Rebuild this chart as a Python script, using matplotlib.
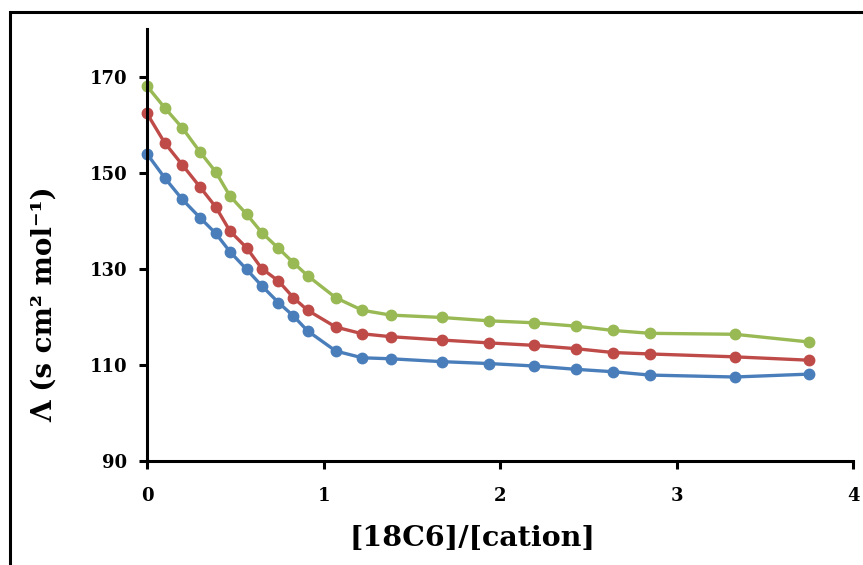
import matplotlib.pyplot as plt
from matplotlib.patches import Rectangle

# [18C6]/[cation] mole ratio
ratio = [0.0, 0.1, 0.2, 0.3, 0.39, 0.47, 0.565, 0.65, 0.745, 0.83, 0.91,
         1.07, 1.22, 1.38, 1.67, 1.94, 2.19, 2.43, 2.64, 2.85, 3.33, 3.75]

green = [168.1, 163.6, 159.4, 154.4, 150.2, 145.2, 141.4, 137.6, 134.3, 131.3, 128.6,
         124.0, 121.4, 120.4, 119.9, 119.2, 118.8, 118.1, 117.2, 116.6, 116.4, 114.8]
red = [162.4, 156.3, 151.7, 147.1, 142.9, 137.9, 134.4, 130.1, 127.5, 124.0, 121.4,
       117.9, 116.5, 115.9, 115.2, 114.6, 114.1, 113.4, 112.6, 112.3, 111.7, 111.0]
blue = [154.0, 149.0, 144.5, 140.7, 137.4, 133.6, 129.9, 126.5, 123.0, 120.2, 117.1,
        112.9, 111.5, 111.3, 110.7, 110.3, 109.8, 109.1, 108.6, 107.9, 107.5, 108.1]

yticks = [90, 110, 130, 150, 170]
xticks = [0, 1, 2, 3, 4]

plt.rcParams["font.family"] = ["DejaVu Serif"]
plt.rcParams["font.weight"] = "bold"

W, H = 863, 565
fig = plt.figure(figsize=(W / 100, H / 100), dpi=100)

# outer frame (right and bottom edges fall outside the image)
fig.patches.append(Rectangle((10 / W, -0.5), 2.0, 1.5 - 12 / H, transform=fig.transFigure,
                             fill=False, edgecolor="black", linewidth=2.2))

ax = fig.add_axes([147 / W, 1 - 461 / H, (853 - 147) / W, (461 - 29) / H])

for vals, col in [(blue, "#4a7ebb"), (red, "#be4b48"), (green, "#98b954")]:
    ax.plot(ratio, vals, color=col, linewidth=2.4, marker="o", markersize=7.5,
            clip_on=False, zorder=3)

ax.set_xlim(0, 4)
ax.set_ylim(90, 180)
ax.set_xticks(xticks)
ax.set_yticks(yticks)
for s in ["top", "right"]:
    ax.spines[s].set_visible(False)
for s in ["left", "bottom"]:
    ax.spines[s].set_linewidth(2.2)
    ax.spines[s].set_zorder(4)
ax.tick_params(direction="out", length=6, width=2.2, labelsize=13)
ax.tick_params(axis="x", pad=13)
ax.tick_params(axis="y", pad=8)

ax.set_xlabel("[18C6]/[cation]", fontsize=20.5, fontweight="bold", va="center")
ax.set_ylabel("Λ (s cm² mol⁻¹)", fontsize=20, fontweight="bold", va="center")
# label centres placed in pixel terms of the reference
ax.xaxis.set_label_coords((472 - 147) / 706, (461 - 538) / 432)
ax.yaxis.set_label_coords((44 - 147) / 706, (461 - 304) / 432)

fig.savefig("out.png", dpi=100)
